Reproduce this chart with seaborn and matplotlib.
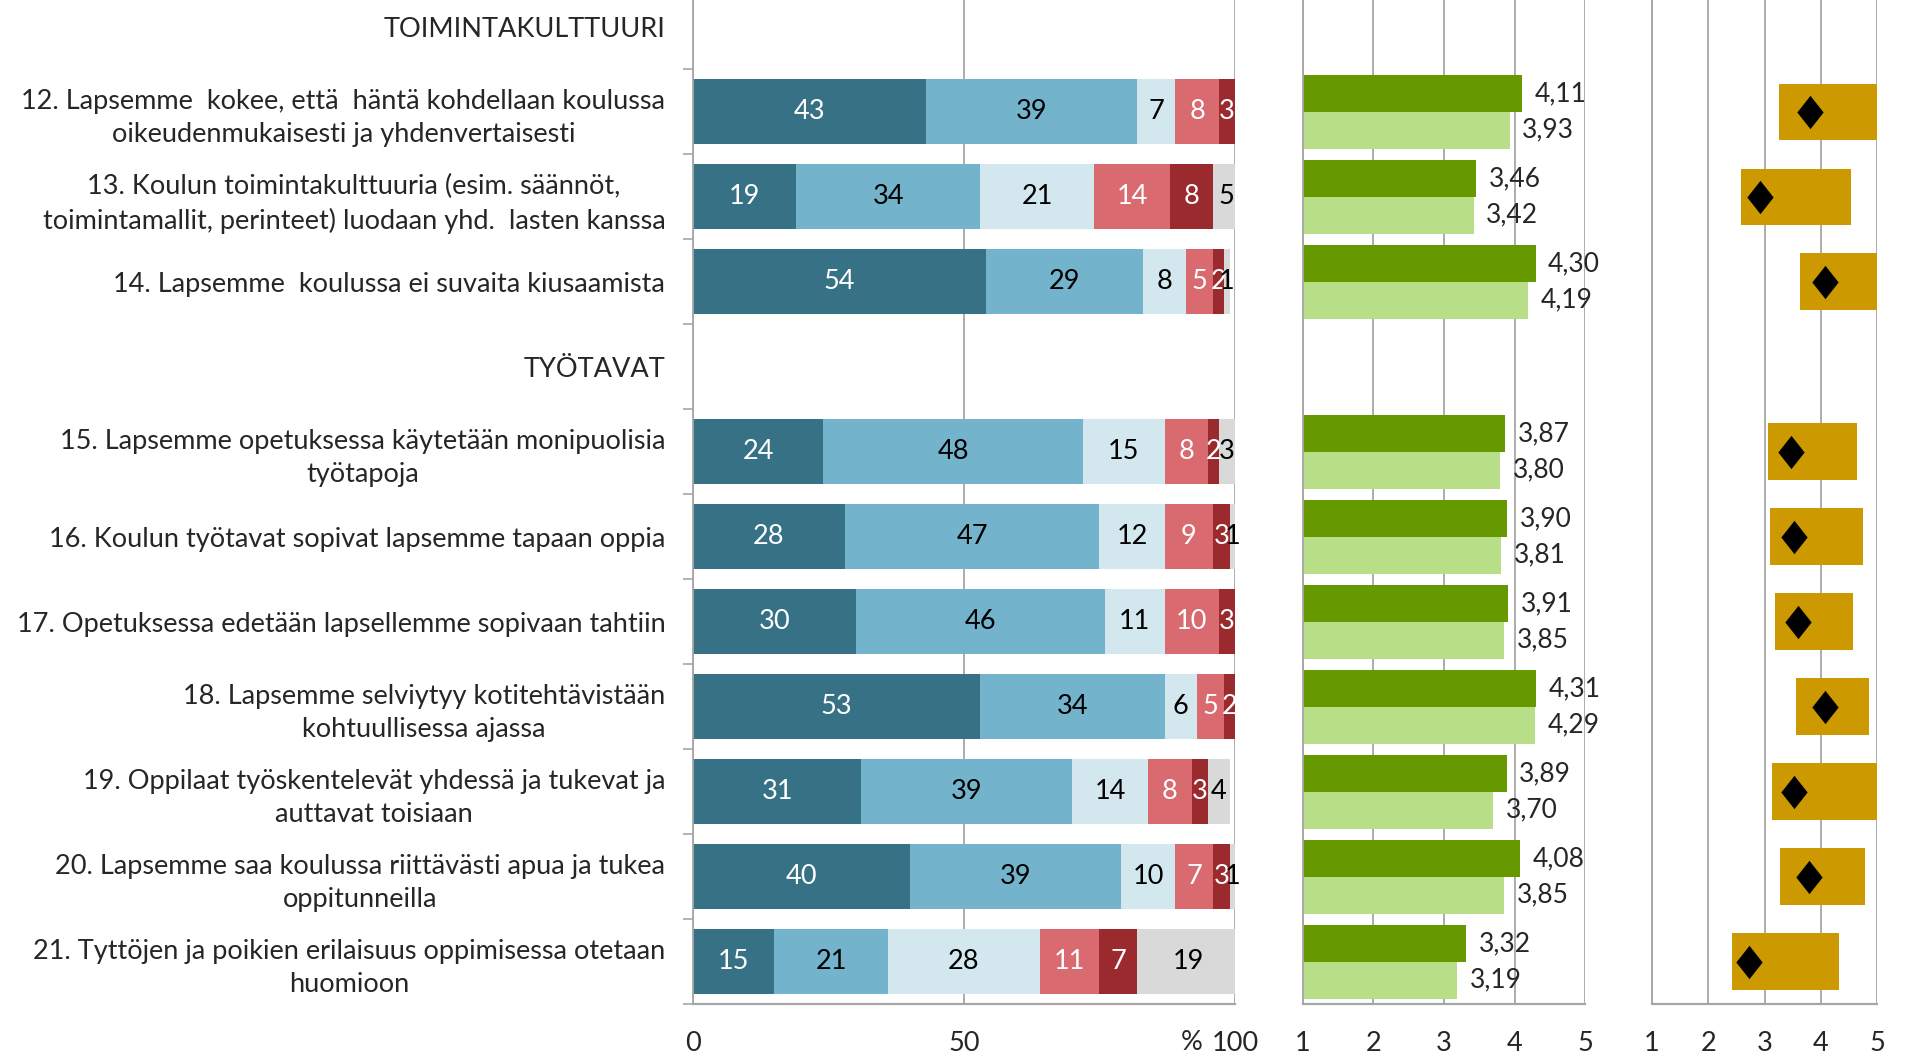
import matplotlib
matplotlib.use("Agg")
import matplotlib.pyplot as plt
import numpy as np
import pandas as pd
import seaborn as sns

# --- data ---
rows = [
    "TOIMINTAKULTTUURI",
    "12. Lapsemme  kokee, että  häntä kohdellaan koulussa\noikeudenmukaisesti ja yhdenvertaisesti",
    "13. Koulun toimintakulttuuria (esim. säännöt,\ntoimintamallit, perinteet) luodaan yhd.  lasten kanssa",
    "14. Lapsemme  koulussa ei suvaita kiusaamista",
    "TYÖTAVAT",
    "15. Lapsemme opetuksessa käytetään monipuolisia\ntyötapoja",
    "16. Koulun työtavat sopivat lapsemme tapaan oppia",
    "17. Opetuksessa edetään lapsellemme sopivaan tahtiin",
    "18. Lapsemme selviytyy kotitehtävistään\nkohtuullisessa ajassa",
    "19. Oppilaat työskentelevät yhdessä ja tukevat ja\nauttavat toisiaan",
    "20. Lapsemme saa koulussa riittävästi apua ja tukea\noppitunneilla",
    "21. Tyttöjen ja poikien erilaisuus oppimisessa otetaan\nhuomioon",
]
headers = ["TOIMINTAKULTTUURI", "TYÖTAVAT"]
items = [r for r in rows if r not in headers]

# percentage shares, one list per answer option
pct_dark = [43, 19, 54, 24, 28, 30, 53, 31, 40, 15]
pct_blue = [39, 34, 29, 48, 47, 46, 34, 39, 39, 21]
pct_light = [7, 21, 8, 15, 12, 11, 6, 14, 10, 28]
pct_pink = [8, 14, 5, 8, 9, 10, 5, 8, 7, 11]
pct_red = [3, 8, 2, 2, 3, 3, 2, 3, 3, 7]
pct_grey = [0, 5, 1, 3, 1, 0, 0, 4, 1, 19]

# means (school vs. comparison)
mean_school = [4.11, 3.46, 4.30, 3.87, 3.90, 3.91, 4.31, 3.89, 4.08, 3.32]
mean_all = [3.93, 3.42, 4.19, 3.80, 3.81, 3.85, 4.29, 3.70, 3.85, 3.19]

# range boxes and diamond markers
range_low = [3.26, 2.59, 3.63, 3.07, 3.09, 3.18, 3.56, 3.14, 3.28, 2.43]
range_high = [5.00, 4.54, 5.00, 4.64, 4.75, 4.57, 4.86, 5.00, 4.79, 4.33]
marker_val = [3.80, 2.92, 4.07, 3.47, 3.53, 3.60, 4.07, 3.53, 3.79, 2.72]

# --- style ---
sns.set_style("white")
plt.rcParams["font.family"] = ["Lato", "DejaVu Sans"]
FS = 19.5
GRID = "#A6A6A6"

seg_colors = ["#367186", "#74B3CC", "#D2E7EE", "#D96A6F", "#9B2A2E", "#D9D9D9"]
seg_text = ["white", "black", "black", "white", "white", "black"]
segments = [pct_dark, pct_blue, pct_light, pct_pink, pct_red, pct_grey]

fig = plt.figure(figsize=(19.23, 10.56), dpi=100)
bottom, height = 0.0488, 0.9659
ax1 = fig.add_axes([0.3604, bottom, 0.2818, height])
ax2 = fig.add_axes([0.6774, bottom, 0.1469, height])
ax3 = fig.add_axes([0.8591, bottom, 0.1170, height])

# --- panel 1: stacked percentages ---
left = np.zeros(len(items))
for vals, col, tcol in zip(segments, seg_colors, seg_text):
    vals = np.array(vals, dtype=float)
    sns.barplot(x=vals, y=items, order=rows, orient="h", color=col, saturation=1,
                width=0.765, left=left, errorbar=None, linewidth=0, ax=ax1)
    for i, item in enumerate(items):
        if vals[i] > 0:
            ax1.text(left[i] + vals[i] / 2, rows.index(item), f"{vals[i]:.0f}",
                     ha="center", va="center", color=tcol, fontsize=FS)
    left = left + vals

ax1.set_xlim(0, 100)
ax1.set_xticks([0, 50, 100])
ax1.set_xticklabels(["0", "50", "100"])
ax1.text(92, -0.0368, "%", transform=ax1.get_xaxis_transform(), ha="center",
         va="center", fontsize=FS)
ax1.set_yticks(range(len(rows)))
ax1.set_yticklabels(rows, multialignment="center", linespacing=1.4)
ax1.set_yticks(np.arange(0.5, len(rows), 1), minor=True)
ax1.tick_params(axis="y", which="major", length=0, pad=20, labelsize=FS)
ax1.tick_params(axis="y", which="minor", length=7, width=1.2, color=GRID, left=True)

# --- panel 2: means ---
df_mean = pd.DataFrame({
    "item": items * 2,
    "value": mean_school + mean_all,
    "series": ["koulu"] * len(items) + ["vertailu"] * len(items),
})
sns.barplot(data=df_mean, x="value", y="item", hue="series", order=rows,
            hue_order=["koulu", "vertailu"], palette=["#669900", "#B8DF88"],
            saturation=1, width=0.86, errorbar=None, linewidth=0, legend=False, ax=ax2)
for cont in ax2.containers:
    ax2.bar_label(cont, labels=[f"{v:.2f}".replace(".", ",") for v in cont.datavalues],
                  padding=9, fontsize=FS - 0.5)
ax2.set_xlim(1, 5)
ax2.set_xticks([1, 2, 3, 4, 5])

# --- panel 3: range boxes with diamond ---
range_width = [h - l for h, l in zip(range_high, range_low)]
sns.barplot(x=range_width, y=items, order=rows, orient="h", color="#CC9900", saturation=1,
            width=0.67, left=range_low, errorbar=None, linewidth=0, ax=ax3)
diamond = [(0, 1), (0.79, 0), (0, -1), (-0.79, 0), (0, 1)]
sns.stripplot(x=marker_val, y=items, order=rows, orient="h", jitter=False, color="black",
              marker=diamond, size=24, linewidth=0, ax=ax3)
ax3.set_xlim(1, 5)
ax3.set_xticks([1, 2, 3, 4, 5])

for ax in (ax1, ax2, ax3):
    ax.set_xlabel("")
    ax.set_ylabel("")
    ax.set_ylim(len(rows) - 0.5, -0.5)
    ax.set_axisbelow(True)
    ax.grid(axis="x", color=GRID, linewidth=1.3)
    ax.grid(axis="y", visible=False)
    for s in ("top", "right"):
        ax.spines[s].set_visible(False)
    ax.spines["bottom"].set_color(GRID)
    ax.spines["bottom"].set_linewidth(1.6)
    ax.spines["left"].set_color(GRID)
    ax.spines["left"].set_linewidth(1.3)
    ax.tick_params(axis="x", length=0, pad=19, labelsize=FS)

for ax in (ax2, ax3):
    ax.set_yticks([])
    ax.tick_params(axis="y", which="both", length=0)

fig.savefig("out.png", dpi=100)
